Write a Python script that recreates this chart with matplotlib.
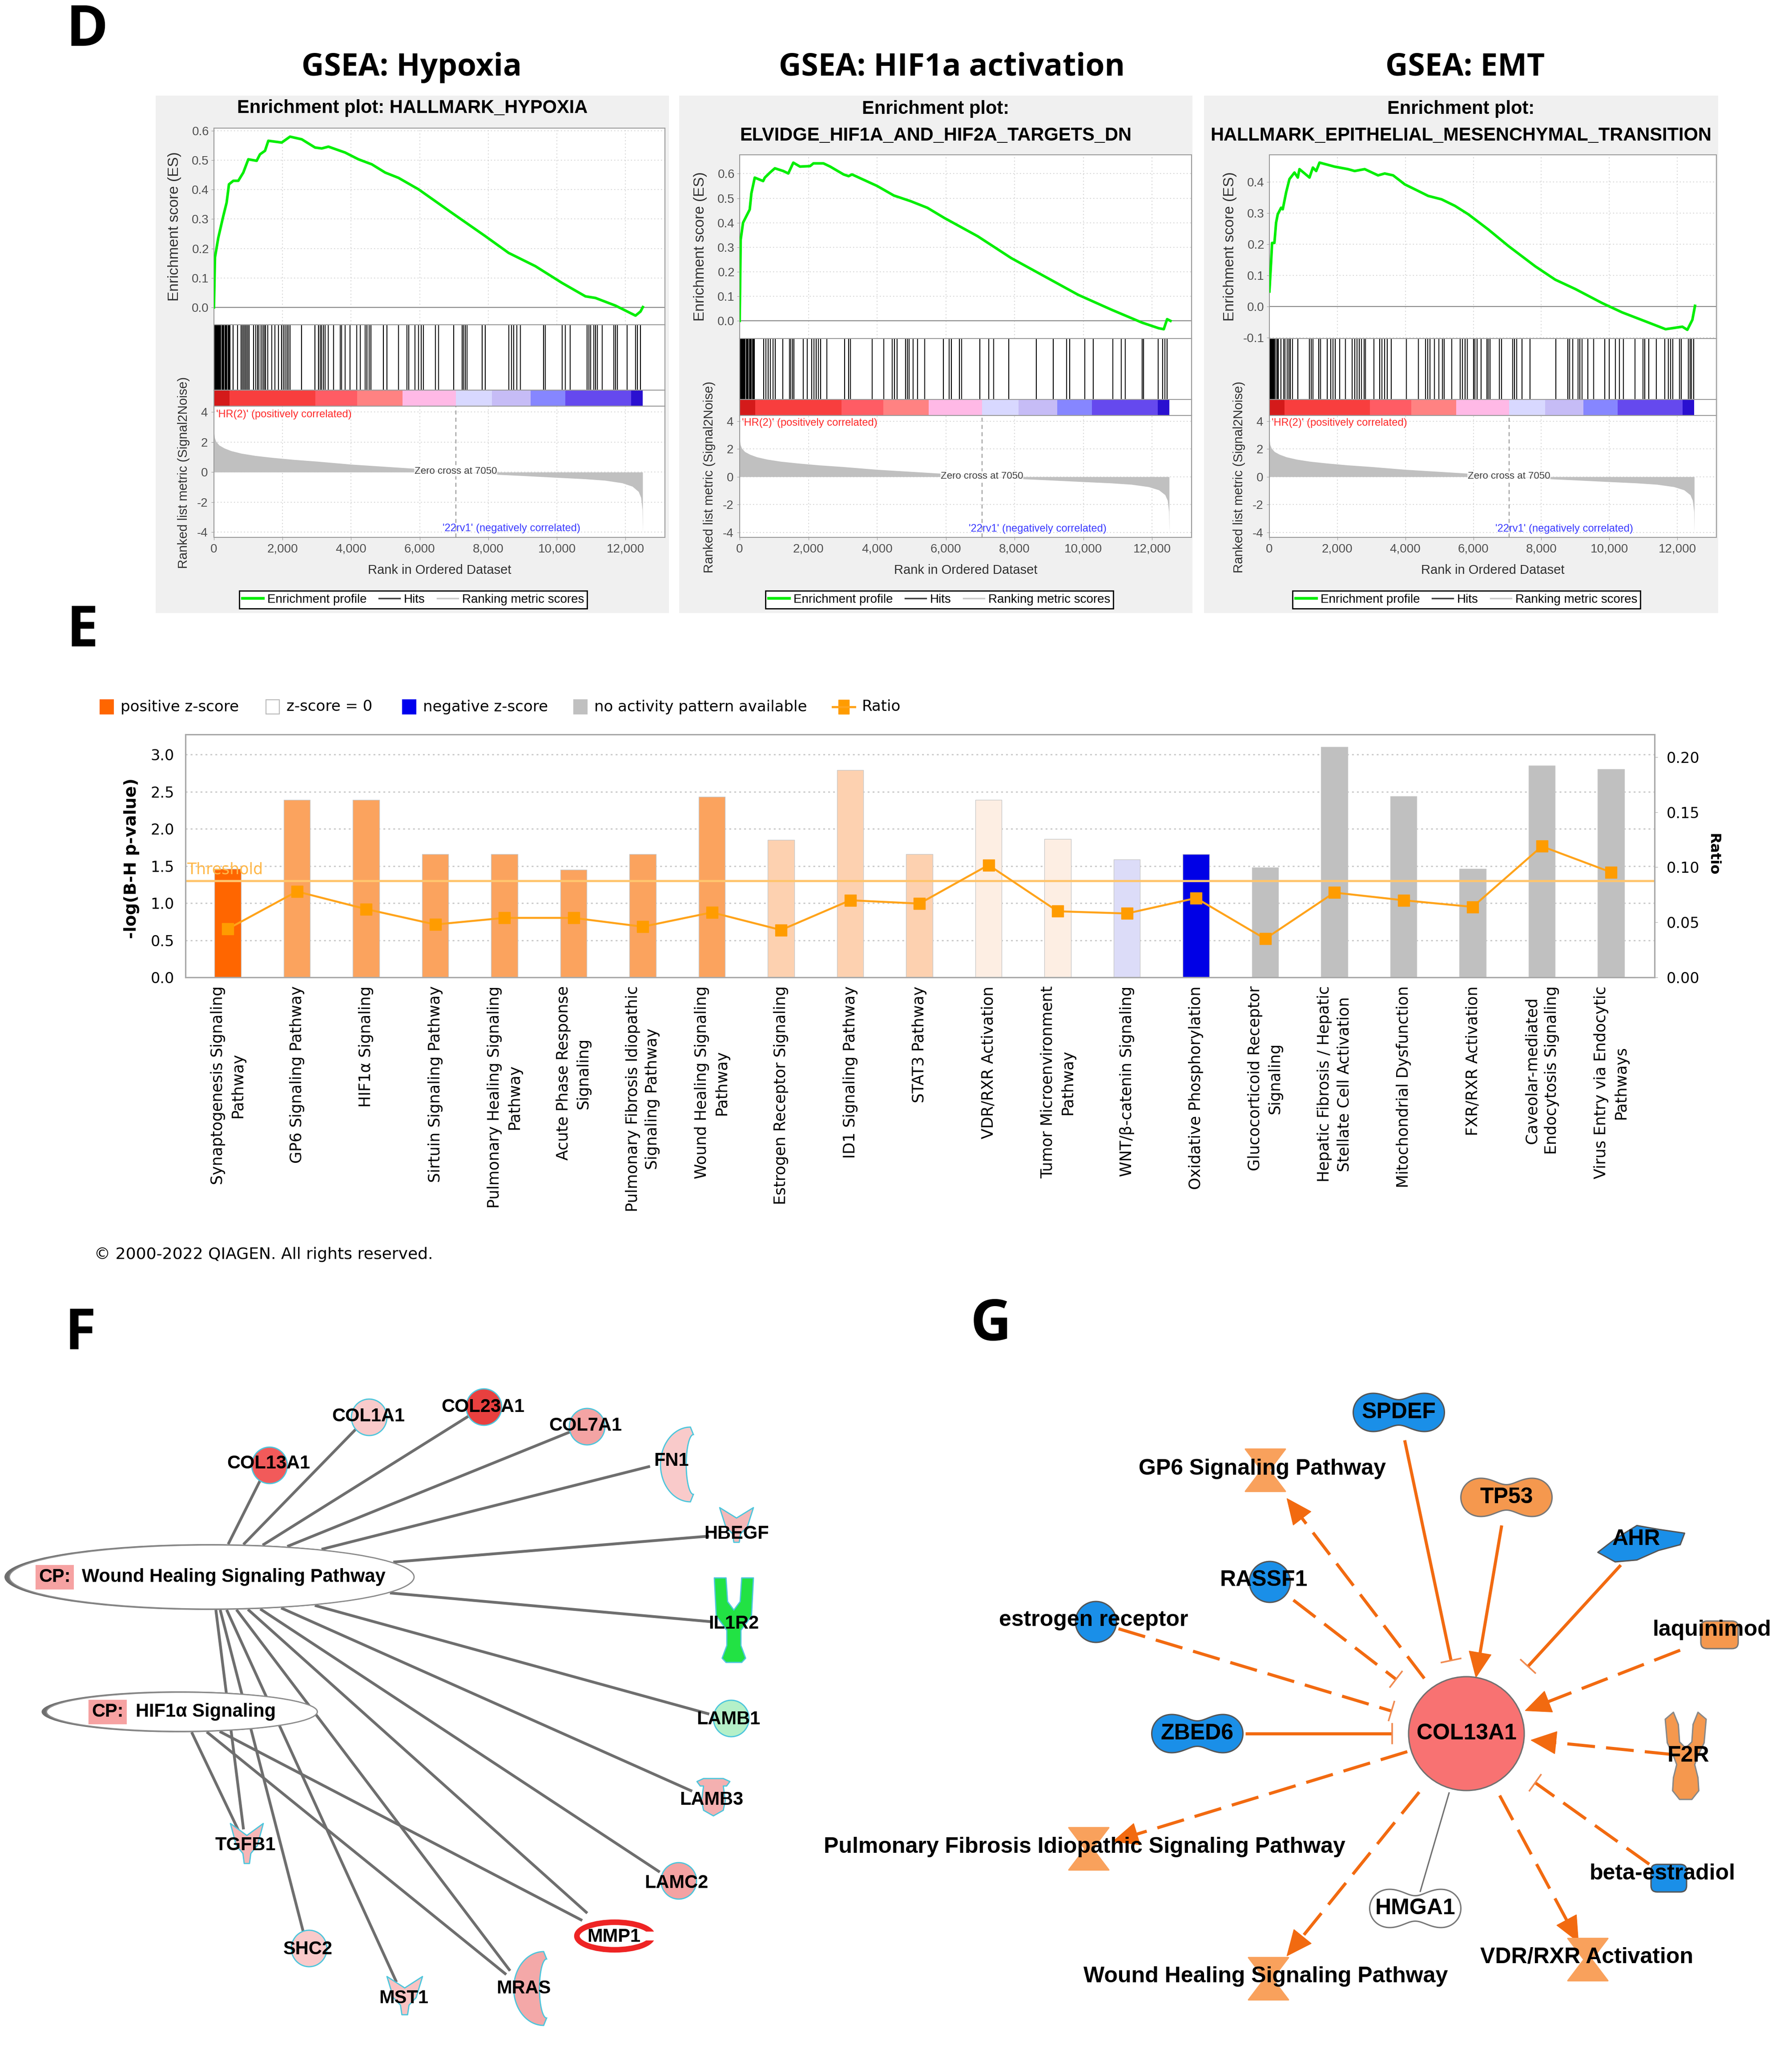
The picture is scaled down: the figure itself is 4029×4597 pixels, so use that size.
import numpy as np
import matplotlib
matplotlib.use("Agg")
import matplotlib.pyplot as plt
from matplotlib import font_manager
from matplotlib.patches import Rectangle, Ellipse, Circle, Polygon, FancyBboxPatch
from matplotlib.lines import Line2D

W, H, DPI = 4030, 4597, 100
_names = {f.name for f in font_manager.fontManager.ttflist}
ARIAL = 'Liberation Sans' if 'Liberation Sans' in _names else 'DejaVu Sans'
SEGOE = 'Open Sans' if 'Open Sans' in _names else 'DejaVu Sans'
DEJA = 'DejaVu Sans'

# ======================= DATA : panel D (GSEA) =======================
gsea_headers = ["GSEA: Hypoxia", "GSEA: HIF1a activation", "GSEA: EMT"]
gsea_titles = [["Enrichment plot: HALLMARK_HYPOXIA"],
               ["Enrichment plot:", "ELVIDGE_HIF1A_AND_HIF2A_TARGETS_DN"],
               ["Enrichment plot:", "HALLMARK_EPITHELIAL_MESENCHYMAL_TRANSITION"]]

hyp_rank = [0, 30, 126, 272, 370, 438, 564, 710, 856, 1002, 1246, 1343, 1489, 1586, 1976, 2219,
            2560, 2949, 3143, 3338, 3825, 4214, 4603, 4993, 5382, 5966, 6939, 7912, 8593, 9372,
            10150, 10832, 11124, 11708, 12292, 12438, 12506]
hyp_es = [0.0, 0.17, 0.236, 0.31, 0.356, 0.418, 0.43, 0.43, 0.458, 0.503, 0.498, 0.52, 0.532, 0.566,
          0.56, 0.58, 0.571, 0.543, 0.54, 0.546, 0.526, 0.503, 0.486, 0.458, 0.44, 0.401, 0.321,
          0.242, 0.185, 0.14, 0.083, 0.0375, 0.032, 0.006, -0.028, -0.014, 0.001]

hif_rank = [0, 29, 98, 195, 293, 341, 439, 683, 732, 878, 1024, 1268, 1415, 1561, 1756, 2049, 2146,
            2439, 2634, 3024, 3171, 3268, 4000, 4488, 4976, 5463, 5951, 6927, 7902, 8878, 9854,
            10829, 11707, 12195, 12341, 12439, 12537]
hif_es = [0.0, 0.33, 0.40, 0.427, 0.454, 0.52, 0.584, 0.57, 0.584, 0.604, 0.622, 0.611, 0.601, 0.645,
          0.629, 0.631, 0.642, 0.642, 0.629, 0.597, 0.59, 0.597, 0.55, 0.511, 0.488, 0.461, 0.42,
          0.345, 0.256, 0.181, 0.106, 0.045, -0.007, -0.03, -0.034, 0.007, 0.0]

emt_rank = [0, 49, 79, 148, 197, 246, 344, 393, 492, 590, 738, 836, 885, 1180, 1279, 1377, 1475,
            1918, 2311, 2508, 2803, 3197, 3393, 3640, 3984, 4377, 4672, 5066, 5459, 5852, 6443,
            7033, 7820, 8410, 9000, 9787, 10377, 11066, 11656, 12148, 12295, 12443, 12521]
emt_es = [0.048, 0.14, 0.204, 0.204, 0.269, 0.296, 0.317, 0.312, 0.366, 0.409, 0.43, 0.414, 0.441,
          0.414, 0.446, 0.435, 0.462, 0.449, 0.441, 0.435, 0.441, 0.421, 0.427, 0.421, 0.392, 0.371,
          0.355, 0.344, 0.323, 0.296, 0.247, 0.194, 0.129, 0.086, 0.056, 0.011, -0.019, -0.048,
          -0.073, -0.065, -0.075, -0.043, 0.002]

hyp_hits = [5, 20, 35, 50, 70, 90, 110, 130, 150, 175, 200, 230, 260, 290, 320, 350, 380, 410, 440,
            465, 564, 691, 788, 827, 866, 905, 944, 983, 1022, 1148, 1216, 1275, 1314, 1372, 1421,
            1470, 1508, 1567, 1684, 1781, 1878, 1976, 2024, 2073, 2122, 2170, 2219, 2560, 2949, 3046,
            3095, 3143, 3192, 3241, 3338, 3484, 3679, 3727, 3825, 3971, 4165, 4263, 4409, 4457, 4525,
            4584, 4944, 5041, 5382, 5625, 5674, 5868, 5966, 6044, 6112, 6452, 6550, 6988, 7231, 7280,
            7328, 7377, 7815, 7912, 8593, 8671, 8739, 8837, 8934, 9615, 9664, 10150, 10248, 10394,
            10880, 10929, 10978, 11075, 11124, 11173, 11318, 11659, 11708, 11757, 12049, 12292,
            12341, 12438]
hif_hits = [5, 20, 40, 60, 80, 100, 130, 160, 190, 220, 250, 280, 310, 340, 370, 400, 430, 702, 761,
            829, 898, 976, 1034, 1249, 1444, 1483, 1541, 1580, 1854, 1971, 2098, 2166, 2224, 2293,
            2361, 2537, 3054, 3171, 3220, 3854, 4195, 4439, 4507, 4585, 4829, 4878, 4927, 5054, 5171,
            5385, 5922, 6098, 6166, 6390, 6459, 6985, 7249, 7395, 7834, 8634, 9122, 9512, 9610,
            10049, 10293, 10859, 11102, 11220, 11707, 11756, 12176, 12312, 12371, 12439]
emt_hits = [5, 25, 50, 75, 100, 130, 160, 200, 240, 265, 344, 413, 462, 521, 570, 620, 679, 836, 1180,
            1230, 1279, 1446, 1505, 1702, 1800, 1869, 1938, 2066, 2233, 2429, 2508, 2577, 2646, 2705,
            2784, 2823, 3069, 3246, 3315, 3393, 3472, 3590, 4033, 4377, 4593, 4652, 4721, 4849, 4987,
            5085, 5144, 5361, 5607, 5675, 5754, 5823, 6000, 6049, 6108, 6226, 6393, 6443, 6492, 6767,
            6836, 7161, 7210, 7279, 7426, 7672, 8430, 8784, 8833, 8921, 9079, 9128, 9197, 9374, 9541,
            9866, 10003, 10180, 10298, 10416, 10760, 10987, 11046, 11164, 11380, 11636, 11734, 11803,
            11872, 12069, 12118, 12325, 12374, 12423, 12482]

metric_rank = [0, 20, 60, 150, 300, 500, 800, 1200, 1700, 2300, 3000, 4000, 5000, 6000, 7050, 8000,
               9000, 10000, 10800, 11400, 11900, 12200, 12380, 12450, 12490, 12500]
metric_value = [2.75, 2.3, 2.05, 1.8, 1.6, 1.42, 1.25, 1.1, 0.97, 0.84, 0.72, 0.52, 0.37, 0.22, 0.0,
                -0.13, -0.24, -0.36, -0.45, -0.55, -0.72, -0.95, -1.3, -1.7, -2.5, -4.0]
zero_cross = 7050
cbar_bounds = [0, 450, 2960, 4180, 5500, 7050, 8110, 9240, 10250, 12160, 12500]
rank_ticks = [0, 2000, 4000, 6000, 8000, 10000, 12000]
rank_tick_labels = ["0", "2,000", "4,000", "6,000", "8,000", "10,000", "12,000"]
metric_ticks = [4, 2, 0, -2, -4]
es_ticks = [[0.0, 0.1, 0.2, 0.3, 0.4, 0.5, 0.6],
            [0.0, 0.1, 0.2, 0.3, 0.4, 0.5, 0.6],
            [-0.1, 0.0, 0.1, 0.2, 0.3, 0.4]]
es_limits = [(-0.059, 0.609), (-0.072, 0.677), (-0.103, 0.487)]
es_series = [(hyp_rank, hyp_es, hyp_hits), (hif_rank, hif_es, hif_hits), (emt_rank, emt_es, emt_hits)]

# ======================= DATA : panel E (IPA canonical pathways) =======================
pathways = ["Synaptogenesis Signaling\nPathway", "GP6 Signaling Pathway", "HIF1\u03b1 Signaling",
            "Sirtuin Signaling Pathway", "Pulmonary Healing Signaling\nPathway",
            "Acute Phase Response\nSignaling", "Pulmonary Fibrosis Idiopathic\nSignaling Pathway",
            "Wound Healing Signaling\nPathway", "Estrogen Receptor Signaling", "ID1 Signaling Pathway",
            "STAT3 Pathway", "VDR/RXR Activation", "Tumor Microenvironment\nPathway",
            "WNT/\u03b2-catenin Signaling", "Oxidative Phosphorylation",
            "Glucocorticoid Receptor\nSignaling", "Hepatic Fibrosis / Hepatic\nStellate Cell Activation",
            "Mitochondrial Dysfunction", "FXR/RXR Activation", "Caveolar-mediated\nEndocytosis Signaling",
            "Virus Entry via Endocytic\nPathways"]
neg_log_bh_p = [1.46, 2.39, 2.39, 1.66, 1.66, 1.45, 1.66, 2.43, 1.85, 2.79, 1.66, 2.39, 1.86, 1.59,
                1.66, 1.48, 3.10, 2.44, 1.46, 2.85, 2.80]
ratio = [0.044, 0.078, 0.062, 0.048, 0.054, 0.054, 0.046, 0.059, 0.043, 0.070, 0.067, 0.102, 0.060,
         0.058, 0.072, 0.035, 0.077, 0.070, 0.064, 0.119, 0.0955]
z_class = ['pos3', 'pos2', 'pos2', 'pos2', 'pos2', 'pos2', 'pos2', 'pos2', 'pos1', 'pos1', 'pos1',
           'pos0', 'pos0', 'neg1', 'neg3', 'na', 'na', 'na', 'na', 'na', 'na']
threshold = 1.3
left_ticks = [0.0, 0.5, 1.0, 1.5, 2.0, 2.5, 3.0]
right_ticks = [0.00, 0.05, 0.10, 0.15, 0.20]

# ======================= DATA : panel F network =======================
f_hubs = ["Wound Healing Signaling Pathway", "HIF1\u03b1 Signaling"]
f_genes = ["COL13A1", "COL1A1", "COL23A1", "COL7A1", "FN1", "HBEGF", "IL1R2", "LAMB1", "LAMB3",
           "LAMC2", "MMP1", "MRAS", "MST1", "SHC2", "TGFB1"]
f_links = [(0, g) for g in f_genes] + [(1, "TGFB1"), (1, "MRAS"), (1, "MMP1")]

# ======================= DATA : panel G network =======================
g_center = "COL13A1"
g_upstream = [("SPDEF", "solid", "inhibit"), ("TP53", "solid", "arrow"), ("AHR", "solid", "inhibit"),
              ("laquinimod", "dashed", "arrow"), ("F2R", "dashed", "arrow"),
              ("beta-estradiol", "dashed", "inhibit"), ("estrogen receptor", "dashed", "inhibit"),
              ("RASSF1", "dashed", "inhibit"), ("ZBED6", "solid", "inhibit")]
g_downstream = [("GP6 Signaling Pathway", "dashed", "arrow"),
                ("Pulmonary Fibrosis Idiopathic Signaling Pathway", "dashed", "arrow"),
                ("Wound Healing Signaling Pathway", "dashed", "arrow"),
                ("VDR/RXR Activation", "dashed", "arrow"),
                ("HMGA1", "plain", "none")]

# ======================= FIGURE =======================
fig = plt.figure(figsize=(W / DPI, H / DPI), dpi=DPI)
fig.patch.set_facecolor('white')
bg = fig.add_axes([0, 0, 1, 1], zorder=0)
bg.set_xlim(0, W)
bg.set_ylim(H, 0)
bg.axis('off')


def px_axes(x0, y0, x1, y1, **kw):
    return fig.add_axes([x0 / W, 1 - y1 / H, (x1 - x0) / W, (y1 - y0) / H], **kw)


# panel letters
for letter, (lx, ly) in zip("DEFG", [(196, 70), (185, 1420), (181, 3000), (2228, 2980)]):
    bg.text(lx, ly, letter, fontsize=92, fontweight='bold', family=SEGOE, ha='center', va='center')

# ---------------- panel D ----------------
geo = [dict(bg=(350, 215, 1504, 1378), x0=481, x1=1495, es=(288, 730), hit=877, cb=913, met=1208,
            tl=[243], head=926, leg=929),
       dict(bg=(1527, 215, 2681, 1378), x0=1663, x1=2679, es=(348, 761), hit=898, cb=934, met=1208,
            tl=[245, 305], head=2140, leg=2112),
       dict(bg=(2707, 215, 3863, 1378), x0=2854, x1=3859, es=(348, 761), hit=898, cb=934, met=1208,
            tl=[245, 305], head=3294, leg=3297)]
cbar_colors = ['#d41a1a', '#f83e3e', '#ff5c64', '#ff8282', '#ffb9e6', '#d8d8ff', '#c6bcf6', '#8686ff',
               '#6549ee', '#2a10d0']
XMAX = 13150
SP = '#9a9a9a'
TK = '#505050'


def style_axes(ax):
    for s in ax.spines.values():
        s.set_color(SP)
        s.set_linewidth(1.5)
    ax.set_xlim(0, XMAX)


for i, g in enumerate(geo):
    bx0, by0, bx1, by1 = g['bg']
    bg.add_patch(Rectangle((bx0, by0), bx1 - bx0, by1 - by0, fc='#f0f0f0', ec='none', zorder=0))
    cx = (bx0 + bx1) / 2
    bg.text(g['head'], 152, gsea_headers[i], fontsize=50, fontweight='bold', family=SEGOE,
            ha='center', va='center')
    for ty, tline in zip(g['tl'], gsea_titles[i]):
        bg.text(cx, ty, tline, fontsize=30, fontweight='bold', family=ARIAL, ha='center', va='center')
    rk, es, hits = es_series[i]
    x0, x1 = g['x0'], g['x1']
    # enrichment score
    axE = px_axes(x0, g['es'][0], x1, g['es'][1], zorder=2)
    style_axes(axE)
    axE.plot(rk, es, color='#00ee00', lw=4.2, solid_joinstyle='round', zorder=3)
    axE.axhline(0, color='#8a8a8a', lw=1.6, zorder=2)
    axE.set_ylim(*es_limits[i])
    axE.set_yticks(es_ticks[i])
    axE.set_yticklabels([f"{t:.1f}" for t in es_ticks[i]])
    axE.set_xticks(rank_ticks)
    axE.tick_params(axis='x', length=0, labelbottom=False)
    axE.tick_params(axis='y', labelsize=20, labelcolor=TK, color=SP, length=4, pad=4)
    for lab in axE.get_yticklabels():
        lab.set_family(ARIAL)
    axE.grid(True, ls=(0, (1.5, 3)), color='#cfcfcf', lw=1.2)
    axE.set_axisbelow(True)
    # hits
    axH = px_axes(x0, g['es'][1], x1, g['hit'], zorder=2)
    style_axes(axH)
    axH.vlines(hits, 0, 1, color='black', lw=1.5)
    axH.set_ylim(0, 1)
    axH.set_xticks([])
    axH.set_yticks([])
    # colour bar of ranked list
    axC = px_axes(x0, g['hit'], x1, g['cb'], zorder=2)
    style_axes(axC)
    segs = [(a, b - a) for a, b in zip(cbar_bounds[:-1], cbar_bounds[1:])]
    axC.broken_barh(segs, (0, 1), facecolors=cbar_colors, lw=0)
    axC.set_ylim(0, 1)
    axC.set_xticks([])
    axC.set_yticks([])
    # ranked list metric
    axM = px_axes(x0, g['cb'], x1, g['met'], zorder=2)
    style_axes(axM)
    axM.fill_between(metric_rank, metric_value, 0, color='#c0c0c0', lw=0, zorder=2)
    axM.axvline(zero_cross, color='#8a8a8a', ls=(0, (5, 4)), lw=1.3, zorder=3)
    axM.set_ylim(-4.35, 4.4)
    axM.set_yticks(metric_ticks)
    axM.set_yticklabels([str(t) for t in metric_ticks])
    axM.set_xticks(rank_ticks)
    axM.set_xticklabels(rank_tick_labels)
    axM.tick_params(labelsize=20, labelcolor=TK, color=SP, length=4, pad=6)
    for lab in axM.get_xticklabels() + axM.get_yticklabels():
        lab.set_family(ARIAL)
    axM.grid(True, ls=(0, (1.5, 3)), color='#cfcfcf', lw=1.2)
    axM.set_axisbelow(True)
    axM.text(zero_cross, 0.05, "Zero cross at 7050", fontsize=16, family=ARIAL, color='#404040',
             ha='center', va='center', zorder=4,
             bbox=dict(fc='white', ec='none', alpha=0.75, pad=0.5))
    axM.text(60, 3.85, "'HR(2)' (positively correlated)", fontsize=17, family=ARIAL,
             color='#ff2a2a', ha='left', va='center', zorder=4)
    axM.text(8670, -3.75, "'22rv1' (negatively correlated)", fontsize=17, family=ARIAL,
             color='#3a3aff', ha='center', va='center', zorder=4)
    # axis labels
    bg.text(x0 - 88, (g['es'][0] + g['es'][1]) / 2, "Enrichment score (ES)", rotation=90,
            fontsize=24, family=ARIAL, color='#303030', ha='center', va='center')
    bg.text(x0 - 68, (g['cb'] + g['met']) / 2 + 2, "Ranked list metric (Signal2Noise)", rotation=90,
            fontsize=21, family=ARIAL, color='#303030', ha='center', va='center')
    bg.text((x0 + x1) / 2, 1282, "Rank in Ordered Dataset", fontsize=21, family=ARIAL,
            color='#303030', ha='center', va='center')
    handles = [Line2D([], [], color='#00ee00', lw=4.5), Line2D([], [], color='#404040', lw=2.5),
               Line2D([], [], color='#c8c8c8', lw=2.5)]
    leg = fig.legend(handles, ["Enrichment profile", "Hits", "Ranking metric scores"], loc='center',
                     bbox_to_anchor=(g['leg'] / W, 1 - 1348 / H), ncol=3, frameon=True,
                     fancybox=False, edgecolor='black', framealpha=1, handlelength=1.7,
                     handletextpad=0.3, columnspacing=1.0, borderpad=0.25,
                     prop={'family': ARIAL, 'size': 20})
    leg.get_frame().set_linewidth(2)

# ---------------- panel E ----------------
zcol = {'pos3': '#ff6600', 'pos2': '#fba35e', 'pos1': '#fdd1b0', 'pos0': '#fdeee3',
        'neg1': '#dcdcf8', 'neg3': '#0000e6', 'na': '#c0c0c0'}
n = len(pathways)
xs = np.arange(n)
axB = px_axes(417, 1651, 3720, 2197, zorder=2)
axB.bar(xs, neg_log_bh_p, width=0.38, color=[zcol[c] for c in z_class], edgecolor='#c8c8c8',
        lw=1.0, zorder=2)
axB.axhline(threshold, color='#ffc56e', lw=3.5, zorder=3)
axB.set_xlim(-0.611, 20.63)
axB.set_ylim(0, 3.27)
axB.set_yticks(left_ticks)
axB.set_yticklabels([f"{t:.1f}" for t in left_ticks])
axB.set_xticks(xs)
axB.set_xticklabels(pathways, rotation=90, ha='center', va='top', multialignment='center',
                    linespacing=1.4, fontsize=25, family=DEJA)
axB.tick_params(axis='x', length=0, pad=14)
axB.tick_params(axis='y', length=0, labelsize=24, pad=18)
axB.grid(True, axis='y', ls=(0, (1.5, 2.5)), color='#c8c8c8', lw=2)
axB.set_axisbelow(True)
for s in axB.spines.values():
    s.set_color('#a8a8a8')
    s.set_linewidth(2.2)
axB.text(-0.59, 1.45, "Threshold", fontsize=25, color='#ffb84a', family=DEJA, ha='left',
         va='center', zorder=5)
axR = axB.twinx()
axR.plot(xs, ratio, color='#ffa31a', lw=3.2, marker='s', ms=19, mfc='#ff9c00', mec='#ff9c00', zorder=4)
axR.set_ylim(0, 0.2206)
axR.set_yticks(right_ticks)
axR.set_yticklabels([f"{t:.2f}" for t in right_ticks])
axR.tick_params(axis='y', length=5, color='#a8a8a8', labelsize=24, pad=14)
for s in axR.spines.values():
    s.set_color('#a8a8a8')
    s.set_linewidth(2.2)
bg.text(296, 1930, "-log(B-H p-value)", rotation=90, fontsize=27, fontweight='bold', family=DEJA,
        ha='center', va='center')
bg.text(3852, 1920, "Ratio", rotation=-90, fontsize=23, fontweight='bold', family=DEJA,
        ha='center', va='center')
# legend of panel E
leg_items = [('sq', '#ff6600', '#ff6600', "positive z-score", 225),
             ('sq', 'white', '#b8b8b8', "z-score = 0", 598),
             ('sq', '#0000ee', '#0000ee', "negative z-score", 905),
             ('sq', '#c0c0c0', '#c0c0c0', "no activity pattern available", 1290),
             ('ln', '#ff9c00', '#ff9c00', "Ratio", 1872)]
for kind, fc, ec, lab, lx in leg_items:
    if kind == 'sq':
        bg.add_patch(Rectangle((lx, 1573), 30, 32, fc=fc, ec=ec, lw=1.5))
        tx = lx + 46
    else:
        bg.plot([lx, lx + 50], [1589, 1589], color='#ffa31a', lw=3.5)
        bg.add_patch(Rectangle((lx + 13, 1573), 24, 32, fc=fc, ec=ec))
        tx = lx + 66
    bg.text(tx, 1589, lab, fontsize=24.5, family=DEJA, ha='left', va='center')
bg.text(212, 2820, "\u00a9 2000-2022 QIAGEN. All rights reserved.", fontsize=26, family=DEJA,
        ha='left', va='center')


# ---------------- shapes for networks ----------------
def place(pts, cx, cy, w, h):
    pts = np.asarray(pts, float)
    return np.column_stack([cx + pts[:, 0] * w, cy + pts[:, 1] * h])


def peanut(cx, cy, w, h):
    th = np.linspace(0, 2 * np.pi, 240)
    c2 = np.cos(2 * th)
    r = np.sqrt(c2 + np.sqrt(c2 ** 2 + 1.07 ** 4 - 1))
    x, y = r * np.cos(th), r * np.sin(th)
    x = x / (x.max() - x.min())
    y = y / (y.max() - y.min())
    return place(np.column_stack([x, y]), cx, cy, w, h)


HOURGLASS = [(-.5, -.5), (.5, -.5), (.1, 0), (.5, .5), (-.5, .5), (-.1, 0)]
GROWTH = [(-.5, -.5), (0, -.2), (.5, -.5), (.32, .05), (.12, .25), (.08, .5), (-.08, .5), (-.12, .25),
          (-.32, .05)]
RECEPT = [(-.5, -.5), (-.2, -.5), (-.16, -.22), (0, -.12), (.16, -.22), (.2, -.5), (.5, -.5), (.45, -.05),
          (.18, .12), (.18, .3), (.3, .45), (.2, .5), (-.2, .5), (-.3, .45), (-.18, .3), (-.18, .12),
          (-.45, -.05)]
GPCR = [(-.5, -.42), (-.3, -.5), (-.18, -.36), (-.15, -.16), (0, -.09), (.15, -.16), (.18, -.36), (.3, -.5),
        (.5, -.42), (.45, -.15), (.3, 0), (.22, .1), (.3, .25), (.32, .4), (.15, .5), (-.15, .5),
        (-.32, .4), (-.3, .25), (-.22, .1), (-.3, 0), (-.45, -.15)]
CUP = [(-.5, -.42), (-.3, -.5), (.3, -.5), (.5, -.42), (.4, -.3), (.3, -.3), (.36, .1), (.3, .35), (0, .5),
       (-.3, .35), (-.36, .1), (-.3, -.3), (-.4, -.3)]
BLOB = [(-.5, .25), (-.3, -.1), (-.05, -.45), (.2, -.35), (.5, -.25), (.45, .05), (.2, .2), (-.05, .45),
        (-.3, .5)]


def crescent(cx, cy, w, h):
    t = np.linspace(-np.pi / 2, np.pi / 2, 60)
    outer = np.column_stack([-np.cos(t) * 0.5, np.sin(t) * 0.5])
    inner = np.column_stack([-np.cos(t[::-1]) * 0.12 + 0.05, np.sin(t[::-1]) * 0.4])
    pts = np.vstack([outer, inner])
    pts[:, 0] = (pts[:, 0] + 0.225) / 0.55
    return place(pts, cx, cy, w, h)


def draw_node(shape, cx, cy, w, h, fc, ec, lw=2.0, z=3):
    if shape == 'circle':
        bg.add_patch(Ellipse((cx, cy), w, h, fc=fc, ec=ec, lw=lw, zorder=z))
    elif shape == 'peanut':
        bg.add_patch(Polygon(peanut(cx, cy, w, h), closed=True, fc=fc, ec=ec, lw=lw, zorder=z))
    elif shape == 'crescent':
        bg.add_patch(Polygon(crescent(cx, cy, w, h), closed=True, fc=fc, ec=ec, lw=lw, zorder=z))
    elif shape == 'rrect':
        bg.add_patch(FancyBboxPatch((cx - w / 2, cy - h / 2), w, h, boxstyle="round,pad=0,rounding_size=14",
                                    fc=fc, ec=ec, lw=lw, zorder=z))
    elif shape == 'ring':
        bg.add_patch(Ellipse((cx, cy), w, h, fc='white', ec=fc, lw=9, zorder=z))
        bg.add_patch(Rectangle((cx + w / 2 - 22, cy - 10), 40, 20, fc='white', ec='none', zorder=z + 0.1))
    else:
        tmpl = {'hourglass': HOURGLASS, 'growth': GROWTH, 'receptor': RECEPT, 'gpcr': GPCR,
                'cup': CUP, 'blob': BLOB}[shape]
        bg.add_patch(Polygon(place(tmpl, cx, cy, w, h), closed=True, fc=fc, ec=ec, lw=lw,
                             joinstyle='round', zorder=z))


def ellipse_exit(cx, cy, a, b, tx, ty):
    dx, dy = tx - cx, ty - cy
    t = 1.0 / np.sqrt((dx / a) ** 2 + (dy / b) ** 2)
    return cx + dx * t, cy + dy * t


# ---------------- panel F ----------------
CY = '#4cc6dc'
f_layout = {  # name: (shape x, y, shape, w, h, fill, label x, y, line shrink)
    "COL13A1": (606, 3294, 'circle', 80, 82, '#f25a5a', 604, 3290, 38),
    "COL1A1": (830, 3186, 'circle', 80, 82, '#f9caca', 828, 3184, 38),
    "COL23A1": (1088, 3163, 'circle', 80, 82, '#e8403f', 1086, 3163, 38),
    "COL7A1": (1320, 3207, 'circle', 80, 82, '#f4a4a4', 1316, 3205, 38),
    "FN1": (1522, 3292, 'crescent', 74, 168, '#f9caca', 1510, 3284, 50),
    "HBEGF": (1656, 3428, 'growth', 76, 78, '#f4b8b8', 1656, 3448, 62),
    "IL1R2": (1650, 3642, 'receptor', 88, 190, '#22e244', 1650, 3650, 50),
    "LAMB1": (1644, 3863, 'circle', 80, 82, '#b4f0c8', 1638, 3865, 45),
    "LAMB3": (1604, 4040, 'cup', 74, 84, '#f4b0b0', 1600, 4046, 48),
    "LAMC2": (1526, 4228, 'circle', 80, 82, '#f4a2a2', 1521, 4233, 45),
    "MMP1": (1382, 4352, 'ring', 170, 62, '#ee2424', 1380, 4354, 80),
    "MRAS": (1192, 4470, 'crescent', 74, 166, '#f4a8a8', 1177, 4470, 50),
    "MST1": (910, 4486, 'growth', 80, 86, '#f9c2c2', 908, 4492, 40),
    "SHC2": (695, 4380, 'circle', 80, 82, '#f9caca', 692, 4382, 40),
    "TGFB1": (555, 4144, 'growth', 74, 90, '#f6b6b6', 552, 4148, 36),
}
hub_layout = [(476, 3545, 916, 148, 123, 184), (409, 3848, 615, 92, 242, 305)]
for hub, gene in f_links:
    hx, hy, hw, hh = hub_layout[hub][:4]
    gx, gy = f_layout[gene][6], f_layout[gene][7]
    shrink = f_layout[gene][8]
    p0 = np.array(ellipse_exit(hx, hy, hw / 2, hh / 2, gx, gy))
    p1 = np.array([gx, gy])
    u = (p1 - p0) / np.linalg.norm(p1 - p0)
    p1 = p1 - u * shrink
    bg.plot([p0[0], p1[0]], [p0[1], p1[1]], color='#6e6e6e', lw=4.5, solid_capstyle='butt', zorder=1)
for k, (hx, hy, hw, hh, cpx, tx) in enumerate(hub_layout):
    bg.add_patch(Ellipse((hx - 8, hy), hw, hh, fc='#6e6e6e', ec='none', zorder=1.5))
    bg.add_patch(Ellipse((hx, hy), hw - 6, hh - 4, fc='white', ec='#8a8a8a', lw=2, zorder=1.6))
    bg.text(cpx, hy, "CP:", fontsize=30, fontweight='bold', family=ARIAL, ha='center', va='center',
            zorder=2, bbox=dict(fc='#f6a2a2', ec='none', boxstyle='square,pad=0.18'))
    bg.text(tx, hy, f_hubs[k], fontsize=30, fontweight='bold', family=ARIAL, ha='left', va='center',
            zorder=2)
for gene in f_genes:
    sx, sy, shp, w, h, fc, lx, ly, _s = f_layout[gene]
    draw_node(shp, sx, sy, w, h, fc, CY, lw=2.0, z=3)
    bg.text(lx, ly, gene, fontsize=30, fontweight='bold', family=ARIAL, ha='center', va='center', zorder=4)

# ---------------- panel G ----------------
OR = '#f26a10'
BLUE = '#1a8fe8'
g_layout = {  # name: (x, y, shape, w, h, fill, edge, label x, y)
    "COL13A1": (3297, 3897, 'circle', 260, 256, '#f87272', '#707070', 3297, 3897),
    "SPDEF": (3145, 3175, 'peanut', 205, 86, BLUE, '#555555', 3145, 3175),
    "TP53": (3387, 3366, 'peanut', 205, 86, '#f5984e', '#777777', 3387, 3366),
    "AHR": (3690, 3468, 'blob', 195, 86, BLUE, '#555555', 3679, 3460),
    "RASSF1": (2855, 3556, 'circle', 92, 92, BLUE, '#555555', 2841, 3552),
    "estrogen receptor": (2464, 3646, 'circle', 92, 92, BLUE, '#555555', 2459, 3642),
    "laquinimod": (3866, 3675, 'rrect', 84, 62, '#f5984e', '#777777', 3849, 3664),
    "ZBED6": (2692, 3897, 'peanut', 205, 86, BLUE, '#555555', 2692, 3897),
    "F2R": (3790, 3947, 'gpcr', 92, 196, '#f5984e', '#888888', 3796, 3947),
    "beta-estradiol": (3752, 4222, 'rrect', 80, 62, BLUE, '#555555', 3738, 4212),
    "HMGA1": (3182, 4290, 'peanut', 205, 86, 'white', '#777777', 3182, 4290),
    "GP6 Signaling Pathway": (2845, 3305, 'hourglass', 90, 95, '#f9a15c', '#f9a15c', 2838, 3302),
    "Pulmonary Fibrosis Idiopathic Signaling Pathway": (2448, 4156, 'hourglass', 90, 95, '#f9a15c',
                                                        '#f9a15c', 2438, 4152),
    "Wound Healing Signaling Pathway": (2852, 4448, 'hourglass', 90, 95, '#f9a15c', '#f9a15c', 2846, 4443),
    "VDR/RXR Activation": (3570, 4405, 'hourglass', 90, 95, '#f9a15c', '#f9a15c', 3568, 4400),
}
g_gaps = {  # edge: (gap at source, gap at target)
    "SPDEF": (64, 168), "TP53": (64, 128), "AHR": (68, 205), "laquinimod": (95, 142), "F2R": (30, 146),
    "beta-estradiol": (54, 190), "estrogen receptor": (53, 176), "RASSF1": (67, 200), "ZBED6": (108, 167),
    "GP6 Signaling Pathway": (156, 80), "Pulmonary Fibrosis Idiopathic Signaling Pathway": (139, 57),
    "Wound Healing Signaling Pathway": (169, 66), "VDR/RXR Activation": (158, 45), "HMGA1": (139, 40),
}


def g_edge(src, dst, style, end, gaps):
    p0 = np.array(g_layout[src][:2], float)
    p1 = np.array(g_layout[dst][:2], float)
    u = (p1 - p0) / np.linalg.norm(p1 - p0)
    nrm = np.array([-u[1], u[0]])
    a = p0 + u * gaps[0]
    b = p1 - u * gaps[1]
    L, Wd = 56, 50
    stop = b - u * L * 0.85 if end == 'arrow' else b
    if style == 'plain':
        bg.plot([a[0], stop[0]], [a[1], stop[1]], color='#707070', lw=2.2, zorder=2)
        return
    kw = dict(color=OR, lw=5, solid_capstyle='butt', zorder=2)
    if style == 'dashed':
        kw['dashes'] = (9, 3.6)
    bg.plot([a[0], stop[0]], [a[1], stop[1]], **kw)
    if end == 'arrow':
        base = b - u * L
        bg.add_patch(Polygon([b, base + nrm * Wd / 2, base - nrm * Wd / 2], closed=True, fc=OR, ec=OR,
                             lw=1, zorder=2.5))
    elif end == 'inhibit':
        bg.plot([b[0] - nrm[0] * 22, b[0] + nrm[0] * 22], [b[1] - nrm[1] * 22, b[1] + nrm[1] * 22],
                color='#f08a50', lw=2.6, zorder=2.5)


for name, style, end in g_upstream:
    g_edge(name, g_center, style, end, g_gaps[name])
for name, style, end in g_downstream:
    g_edge(g_center, name, style, end, g_gaps[name])
for name, (x, y, shp, w, h, fc, ec, lx, ly) in g_layout.items():
    draw_node(shp, x, y, w, h, fc, ec, lw=2.2, z=3)
    bg.text(lx, ly, name, fontsize=36, fontweight='bold', family=ARIAL, ha='center', va='center', zorder=4)

fig.savefig("out.png", dpi=DPI, facecolor='white')
